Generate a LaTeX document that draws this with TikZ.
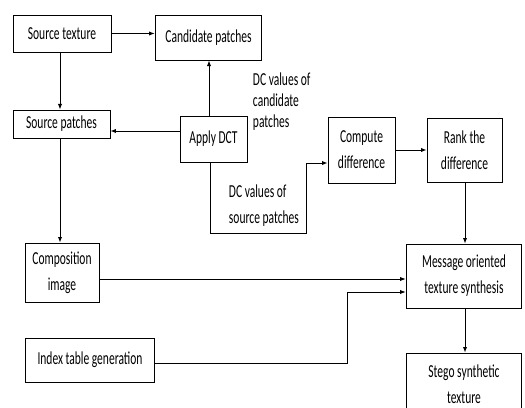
\documentclass[tikz,border=0pt]{standalone}
\usepackage{fontspec}
\setmainfont{Carlito}[FakeStretch=0.63]
\usetikzlibrary{arrows.meta}

\begin{document}
\begin{tikzpicture}[x=0.025cm, y=-0.025cm, every node/.style={font=\fontsize{13}{18.5}\selectfont}]
  \tikzstyle{block}=[draw, line width=0.6pt, inner sep=0pt, align=center]
  \tikzstyle{edge}=[-{Latex[length=4pt,width=3pt]}, line width=0.6pt]
  \useasboundingbox (0,0) rectangle (525,407);
  % blocks
  \node[block, minimum width=98*0.71pt, minimum height=37*0.71pt] (srctex) at (62, 33.5) {Source texture};
  \node[block, minimum width=107*0.71pt, minimum height=45*0.71pt] (cand) at (208.5, 37.5) {Candidate patches};
  \node[block, minimum width=97*0.71pt, minimum height=28*0.71pt] (srcpatch) at (61.5, 124) {Source patches};
  \node[block, minimum width=67*0.71pt, minimum height=46*0.71pt] (dct) at (213.5, 139) {Apply DCT};
  \node[block, minimum width=67*0.71pt, minimum height=66*0.71pt] (comp) at (361.5, 150) {Compute\\difference};
  \node[block, minimum width=75*0.71pt, minimum height=64*0.71pt] (rank) at (464.5, 150) {Rank the\\difference};
  \node[block, minimum width=74*0.71pt, minimum height=59*0.71pt] (compo) at (62, 272.5) {Composition\\image};
  \node[block, minimum width=116*0.71pt, minimum height=64*0.71pt] (msg) at (464, 276) {Message oriented\\texture synthesis};
  \node[block, minimum width=130*0.71pt, minimum height=44*0.71pt] (index) at (90, 360) {Index table generation};
  \node[block, minimum width=116*0.71pt, minimum height=62*0.71pt] (stego) at (464, 384) {Stego synthetic\\texture};
  % labels
  \node[align=left, font=\fontsize{13}{15}\selectfont, anchor=north west] (dccand) at (248, 68) {DC values of\\candidate\\patches};
  \node[align=left, anchor=north west] (dcsrc) at (224, 180) {DC values of\\source patches};
  \coordinate (bend) at (306, 233);
  \coordinate (kink) at (347, 363);
  % edges
  \draw[edge] (srctex) -- (cand.west |- srctex);
  \draw[edge] (srctex.south -| 60,0) -- (srcpatch.north -| 60,0);
  \draw[edge] (dct.north -| 209,0) -- (cand.south -| 209,0);
  \draw[edge] (dct.west |- 0,131) -- (srcpatch.east |- 0,131);
  \draw[edge] (dct.south -| 210,0) |- (bend) |- (comp.west |- 0,163);
  \draw[edge] (comp.east) -- (rank.west |- comp.east);
  \draw[edge] (rank.south -| 465,0) -- (msg.north -| 465,0);
  \draw[edge] (srcpatch.south -| 60,0) -- (compo.north -| 60,0);
  \draw[edge] (compo.east |- 0,279) -- (msg.west |- 0,279);
  \draw[edge] (index.east |- kink) -- (kink) |- (msg.west |- 0,292);
  \draw[edge] (msg.south -| 465,0) -- (stego.north -| 465,0);
\end{tikzpicture}
\end{document}
